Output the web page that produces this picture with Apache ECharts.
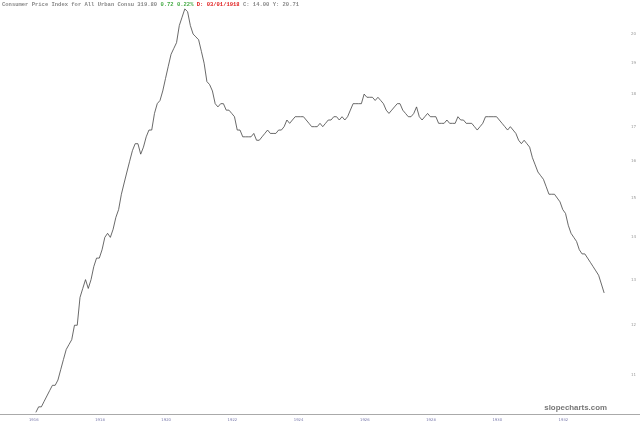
<!DOCTYPE html>
<html>
<head>
<meta charset="utf-8">
<script src="https://cdn.jsdelivr.net/npm/echarts@6/dist/echarts.min.js"></script>
<style>html,body{margin:0;padding:0;background:#fff;}#chart{width:640px;height:428px;}</style>
</head>
<body>
<div id="chart"></div>
<script>
// Monthly CPI values, Dec 1915 .. Feb 1933
const seriesStart = '1915-12';
const cpi = [
  10.3,
  10.4, 10.4, 10.5, 10.6, 10.7, 10.8, 10.8, 10.9, 11.1, 11.3, 11.5, 11.6,
  11.7, 12.0, 12.0, 12.6, 12.8, 13.0, 12.8, 13.0, 13.3, 13.5, 13.5, 13.7,
  14.0, 14.1, 14.0, 14.2, 14.5, 14.7, 15.1, 15.4, 15.7, 16.0, 16.3, 16.5,
  16.5, 16.2, 16.4, 16.7, 16.9, 16.9, 17.4, 17.7, 17.8, 18.1, 18.5, 18.9,
  19.3, 19.5, 19.7, 20.3, 20.6, 20.9, 20.8, 20.3, 20.0, 19.9, 19.8, 19.4,
  19.0, 18.4, 18.3, 18.1, 17.7, 17.6, 17.7, 17.7, 17.5, 17.5, 17.4, 17.3,
  16.9, 16.9, 16.7, 16.7, 16.7, 16.7, 16.8, 16.6, 16.6, 16.7, 16.8, 16.9,
  16.8, 16.8, 16.8, 16.9, 16.9, 17.0, 17.2, 17.1, 17.2, 17.3, 17.3, 17.3,
  17.3, 17.2, 17.1, 17.0, 17.0, 17.0, 17.1, 17.0, 17.1, 17.2, 17.2, 17.3,
  17.3, 17.2, 17.3, 17.2, 17.3, 17.5, 17.7, 17.7, 17.7, 17.7, 18.0, 17.9,
  17.9, 17.9, 17.8, 17.9, 17.8, 17.7, 17.5, 17.4, 17.5, 17.6, 17.7, 17.7,
  17.5, 17.4, 17.3, 17.3, 17.4, 17.6, 17.3, 17.2, 17.3, 17.4, 17.3, 17.3,
  17.3, 17.1, 17.1, 17.1, 17.2, 17.1, 17.1, 17.1, 17.3, 17.2, 17.2, 17.1,
  17.1, 17.1, 17.0, 16.9, 17.0, 17.1, 17.3, 17.3, 17.3, 17.3, 17.3, 17.2,
  17.1, 17.0, 16.9, 17.0, 16.9, 16.8, 16.6, 16.5, 16.6, 16.5, 16.4, 16.1,
  15.9, 15.7, 15.6, 15.5, 15.3, 15.1, 15.1, 15.1, 15.0, 14.9, 14.7, 14.6,
  14.3, 14.1, 14.0, 13.9, 13.7, 13.6, 13.6, 13.5, 13.4, 13.3, 13.2, 13.1,
  12.9, 12.7
];
// Axis range of months shown (viewport), Nov 1914 .. Mar 1934
const axisStart = [1914, 11];
const axisEnd = [1934, 3];
const yTickLabels = [11, 12, 13, 14, 15, 16, 17, 18, 19, 20];
const xLabelYears = [1916, 1918, 1920, 1922, 1924, 1926, 1928, 1930, 1932];

const pad = n => (n < 10 ? '0' : '') + n;
const categories = [];
for (let y = axisStart[0], m = axisStart[1]; y < axisEnd[0] || (y === axisEnd[0] && m <= axisEnd[1]); ) {
  categories.push(y + '-' + pad(m));
  m++; if (m > 12) { m = 1; y++; }
}
const startIdx = categories.indexOf(seriesStart);
const seriesData = categories.map((c, i) => {
  const k = i - startIdx;
  return (k >= 0 && k < cpi.length) ? cpi[k] : null;
});

const chart = echarts.init(document.getElementById('chart'));
chart.setOption({
  animation: false,
  backgroundColor: '#ffffff',
  title: [{
    left: 2, top: 2, padding: 0,
    text: '{t|Consumer Price Index for All Urban Consu 319.80 }{g|0.72 0.22% }{r|D: 03/01/1918 }{t|C: 14.00 Y: 20.71}',
    textStyle: {
      fontFamily: 'Liberation Mono', fontSize: 5.5,
      rich: {
        t: { color: '#888888', fontFamily: 'Liberation Mono', fontSize: 5.5 },
        g: { color: '#44aa44', fontFamily: 'Liberation Mono', fontSize: 5.5 },
        r: { color: '#e02020', fontFamily: 'Liberation Mono', fontSize: 5.5, fontWeight: 'bold' }
      }
    }
  }, {
    right: 33, top: 404, padding: 0,
    text: 'slopecharts.com',
    textStyle: { fontFamily: 'Liberation Sans', fontSize: 7.9, fontWeight: 'bold', color: '#777777' }
  }],
  grid: { left: 0, right: 0, top: 0, bottom: 14, containLabel: false },
  xAxis: {
    type: 'category',
    data: categories,
    boundaryGap: false,
    axisLine: { show: true, lineStyle: { color: '#aaaaaa', width: 1 } },
    axisTick: { show: false },
    splitLine: { show: false },
    axisLabel: {
      interval: (idx, val) => val.slice(5) === '01' && xLabelYears.indexOf(+val.slice(0, 4)) >= 0,
      formatter: val => val.slice(0, 4),
      align: 'right',
      fontSize: 3.8, color: '#7777aa', margin: 4, fontFamily: 'DejaVu Sans'
    }
  },
  yAxis: {
    type: 'log',
    logBase: 10,
    min: 10.27,
    max: 21.23,
    position: 'right',
    axisLine: { show: false },
    axisTick: { show: false },
    splitLine: { show: false },
    axisLabel: {
      inside: true,
      customValues: yTickLabels,
      formatter: v => String(Math.round(v)),
      fontSize: 4, color: '#999999', margin: 4, fontFamily: 'DejaVu Sans'
    }
  },
  series: [{
    type: 'line',
    data: seriesData,
    showSymbol: false,
    connectNulls: false,
    lineStyle: { color: '#444444', width: 0.8 },
    itemStyle: { color: '#444444' }
  }]
});
</script>
</body>
</html>
